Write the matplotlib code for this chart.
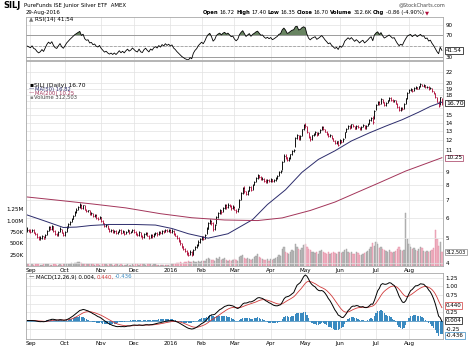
#SILJ daily chart with RSI, price/volume and MACD panels

#Libraries
import numpy as np
import pandas as pd
import matplotlib
matplotlib.use('Agg')
import matplotlib.pyplot as plt
from matplotlib.ticker import FixedLocator, FixedFormatter, NullLocator

#Trading days
holidays = ['2015-09-07', '2015-11-26', '2015-12-25', '2016-01-01', '2016-01-18',
            '2016-02-15', '2016-03-25', '2016-05-30', '2016-07-04']
dates = pd.bdate_range('2015-08-28', '2016-08-29')
dates = dates[~dates.isin(pd.to_datetime(holidays))]

#Daily closes, highs, lows (one list per month)
close_aug15 = [5.40, 5.35]
close_sep = [5.30, 5.40, 5.25, 5.20, 5.05, 4.95, 5.00, 5.10, 4.98, 5.15, 5.35, 5.50, 5.42, 5.55, 5.35, 5.20, 5.15, 5.30, 5.45, 5.25, 5.15]
close_oct = [5.30, 5.50, 5.65, 5.80, 5.95, 6.10, 6.30, 6.45, 6.60, 6.75, 6.55, 6.70, 6.45, 6.35, 6.40, 6.20, 6.25, 6.10, 6.15, 6.00, 5.95, 6.05]
close_nov = [5.85, 5.70, 5.55, 5.60, 5.45, 5.35, 5.40, 5.28, 5.35, 5.22, 5.30, 5.40, 5.25, 5.32, 5.20, 5.30, 5.38, 5.25, 5.30, 5.40]
close_dec = [5.30, 5.20, 5.15, 5.28, 5.10, 5.05, 5.18, 5.25, 5.12, 5.02, 5.15, 5.08, 5.20, 5.25, 5.18, 5.30, 5.22, 5.35, 5.28, 5.40, 5.32, 5.38]
close_jan = [5.30, 5.35, 5.20, 5.12, 5.00, 4.90, 4.78, 4.65, 4.55, 4.45, 4.38, 4.32, 4.40, 4.30, 4.50, 4.62, 4.70, 4.85, 4.95]
close_feb = [5.05, 4.98, 5.15, 5.45, 5.70, 5.85, 5.70, 5.45, 5.60, 6.05, 6.25, 6.40, 6.30, 6.55, 6.70, 6.60, 6.75, 6.65, 6.55, 6.62]
close_mar = [6.45, 6.35, 6.50, 7.05, 7.45, 7.80, 7.60, 7.40, 7.65, 7.90, 7.70, 8.05, 8.25, 8.55, 8.75, 8.60, 8.45, 8.50, 8.35, 8.25, 8.40, 8.30]
close_apr = [8.45, 8.30, 8.40, 8.55, 8.70, 9.00, 9.10, 9.90, 10.45, 10.30, 10.05, 10.20, 10.55, 10.85, 11.00, 12.20, 12.50, 12.15, 12.40, 13.20, 13.70]
close_may = [13.60, 12.90, 12.35, 12.10, 12.50, 12.70, 12.90, 12.55, 12.80, 13.15, 13.50, 13.25, 12.95, 12.70, 12.40, 12.55, 12.20, 11.95, 11.70, 11.85, 11.50]
close_jun = [12.00, 11.80, 12.10, 12.85, 13.20, 13.60, 13.40, 13.80, 13.55, 13.30, 13.65, 13.45, 13.20, 13.50, 13.70, 13.35, 13.60, 13.90, 14.30, 14.60, 14.10, 15.60]
close_jul = [16.40, 16.90, 16.50, 17.30, 16.80, 16.40, 16.70, 17.10, 17.45, 17.20, 16.95, 17.10, 16.60, 16.10, 15.70, 16.00, 15.80, 16.60, 17.40, 18.30]
close_aug = [18.70, 18.95, 18.60, 19.10, 19.30, 19.00, 19.40, 19.75, 19.50, 19.60, 19.20, 19.35, 18.90, 19.10, 18.60, 18.20, 17.60, 16.90, 16.30, 17.56, 16.70]

high_aug15 = [5.50, 5.45]
high_sep = [5.42, 5.45, 5.42, 5.30, 5.22, 5.08, 5.08, 5.15, 5.12, 5.18, 5.40, 5.55, 5.55, 5.60, 5.55, 5.38, 5.25, 5.35, 5.50, 5.45, 5.28]
high_oct = [5.35, 5.55, 5.70, 5.85, 6.00, 6.15, 6.35, 6.55, 6.65, 6.85, 6.78, 6.75, 6.70, 6.50, 6.45, 6.42, 6.30, 6.28, 6.20, 6.18, 6.05, 6.10]
high_nov = [6.05, 5.88, 5.72, 5.65, 5.62, 5.48, 5.45, 5.42, 5.40, 5.38, 5.35, 5.45, 5.42, 5.38, 5.35, 5.35, 5.42, 5.40, 5.35, 5.45]
high_dec = [5.42, 5.32, 5.25, 5.32, 5.30, 5.15, 5.22, 5.30, 5.28, 5.15, 5.20, 5.18, 5.25, 5.30, 5.28, 5.35, 5.32, 5.40, 5.38, 5.45, 5.42, 5.42]
high_jan = [5.45, 5.42, 5.38, 5.25, 5.15, 5.05, 4.92, 4.80, 4.68, 4.58, 4.50, 4.42, 4.48, 4.45, 4.55, 4.68, 4.75, 4.90, 5.00]
high_feb = [5.10, 5.10, 5.20, 5.50, 5.75, 5.95, 5.90, 5.75, 5.68, 6.10, 6.32, 6.48, 6.45, 6.62, 6.80, 6.78, 6.82, 6.78, 6.70, 6.70]
high_mar = [6.65, 6.50, 6.55, 7.10, 7.55, 7.90, 7.95, 7.65, 7.70, 7.98, 7.95, 8.10, 8.35, 8.62, 8.90, 8.80, 8.68, 8.60, 8.55, 8.45, 8.48, 8.45]
high_apr = [8.52, 8.50, 8.48, 8.62, 8.78, 9.08, 9.20, 9.95, 10.60, 10.55, 10.35, 10.30, 10.62, 10.95, 11.10, 12.30, 12.65, 12.55, 12.55, 13.30, 13.85]
high_may = [13.95, 13.55, 12.95, 12.40, 12.55, 12.80, 13.00, 12.95, 12.90, 13.25, 13.60, 13.55, 13.30, 13.00, 12.75, 12.65, 12.55, 12.25, 12.00, 11.95, 11.90]
high_jun = [12.10, 12.05, 12.20, 12.95, 13.35, 13.75, 13.70, 13.90, 13.85, 13.60, 13.75, 13.70, 13.50, 13.60, 13.85, 13.75, 13.70, 14.00, 14.45, 14.75, 14.90, 15.70]
high_jul = [16.55, 17.05, 16.95, 17.45, 17.35, 16.85, 16.80, 17.20, 17.55, 17.55, 17.25, 17.20, 17.10, 16.65, 16.20, 16.10, 16.10, 16.70, 17.50, 18.40]
high_aug = [18.85, 19.15, 18.95, 19.20, 19.45, 19.35, 19.50, 19.90, 19.85, 19.75, 19.65, 19.45, 19.40, 19.20, 19.15, 18.65, 18.25, 17.60, 17.00, 17.65, 17.40]

low_aug15 = [5.30, 5.28]
low_sep = [5.25, 5.28, 5.22, 5.15, 5.02, 4.90, 4.92, 4.98, 4.95, 5.00, 5.15, 5.32, 5.38, 5.40, 5.30, 5.15, 5.08, 5.12, 5.28, 5.22, 5.10]
low_oct = [5.12, 5.28, 5.48, 5.62, 5.78, 5.92, 6.08, 6.28, 6.42, 6.55, 6.50, 6.50, 6.40, 6.30, 6.30, 6.15, 6.15, 6.05, 6.05, 5.95, 5.88, 5.92]
low_nov = [5.80, 5.65, 5.50, 5.50, 5.42, 5.30, 5.30, 5.22, 5.25, 5.18, 5.18, 5.28, 5.20, 5.22, 5.15, 5.18, 5.28, 5.20, 5.22, 5.28]
low_dec = [5.25, 5.15, 5.10, 5.12, 5.05, 4.98, 5.02, 5.15, 5.08, 4.98, 5.00, 5.02, 5.05, 5.15, 5.12, 5.15, 5.18, 5.20, 5.22, 5.28, 5.28, 5.30]
low_jan = [5.25, 5.25, 5.15, 5.08, 4.95, 4.85, 4.72, 4.60, 4.50, 4.40, 4.32, 4.25, 4.30, 4.25, 4.30, 4.48, 4.58, 4.65, 4.80]
low_feb = [4.92, 4.92, 4.98, 5.20, 5.45, 5.65, 5.62, 5.35, 5.40, 5.65, 6.00, 6.20, 6.20, 6.30, 6.50, 6.50, 6.55, 6.58, 6.45, 6.48]
low_mar = [6.40, 6.28, 6.30, 6.55, 7.00, 7.40, 7.50, 7.32, 7.35, 7.62, 7.62, 7.70, 8.00, 8.25, 8.50, 8.52, 8.40, 8.38, 8.28, 8.18, 8.20, 8.22]
low_apr = [8.25, 8.22, 8.25, 8.35, 8.50, 8.70, 8.95, 9.20, 9.85, 10.15, 9.95, 9.98, 10.15, 10.50, 10.75, 11.30, 12.10, 12.05, 12.05, 12.45, 13.10]
low_may = [13.35, 12.80, 12.25, 11.90, 12.05, 12.40, 12.60, 12.45, 12.50, 12.75, 13.10, 13.15, 12.85, 12.60, 12.30, 12.30, 12.10, 11.85, 11.60, 11.60, 11.40]
low_jun = [11.55, 11.70, 11.75, 12.20, 12.85, 13.20, 13.30, 13.40, 13.45, 13.20, 13.25, 13.35, 13.10, 13.15, 13.45, 13.25, 13.30, 13.55, 13.90, 14.25, 13.80, 14.50]
low_jul = [15.75, 16.35, 16.35, 16.55, 16.70, 16.30, 16.30, 16.65, 17.05, 17.05, 16.85, 16.85, 16.50, 16.00, 15.55, 15.60, 15.65, 15.85, 16.55, 17.35]
low_aug = [18.20, 18.55, 18.45, 18.55, 19.00, 18.90, 19.00, 19.35, 19.40, 19.30, 19.10, 19.15, 18.80, 18.85, 18.50, 18.10, 17.50, 16.80, 16.10, 16.40, 16.35]

#Volume in thousands
vol_aug15 = [40, 35]
vol_sep = [30, 45, 25, 35, 40, 55, 30, 25, 35, 40, 50, 45, 30, 25, 35, 40, 30, 25, 35, 30, 40]
vol_oct = [35, 40, 50, 45, 60, 55, 70, 65, 80, 90, 60, 55, 45, 50, 40, 35, 45, 40, 30, 35, 40, 30]
vol_nov = [45, 40, 50, 35, 30, 40, 35, 30, 25, 35, 40, 30, 35, 25, 20, 30, 35, 25, 30, 35]
vol_dec = [30, 35, 40, 30, 45, 40, 35, 30, 40, 45, 35, 30, 40, 35, 30, 25, 20, 30, 25, 20, 25, 30]
vol_jan = [40, 45, 50, 55, 60, 70, 80, 65, 75, 90, 85, 100, 80, 95, 110, 85, 90, 100, 95]
vol_feb = [120, 100, 110, 160, 180, 150, 130, 140, 120, 170, 160, 190, 140, 150, 180, 130, 120, 140, 110, 130]
vol_mar = [150, 130, 120, 200, 220, 250, 180, 160, 170, 150, 140, 160, 190, 230, 260, 200, 170, 150, 140, 130, 150, 120]
vol_apr = [160, 140, 150, 170, 200, 240, 220, 380, 420, 300, 280, 260, 300, 350, 330, 480, 420, 380, 350, 400, 460]
vol_may = [480, 420, 380, 350, 300, 320, 280, 300, 260, 330, 360, 300, 280, 260, 300, 270, 290, 310, 280, 260, 300]
vol_jun = [320, 280, 300, 350, 380, 320, 280, 300, 260, 270, 300, 280, 250, 240, 260, 280, 300, 330, 380, 420, 500, 450]
vol_jul = [520, 480, 400, 420, 380, 350, 330, 300, 360, 320, 280, 300, 340, 380, 420, 360, 330, 350, 1170, 600]
vol_aug = [480, 420, 380, 400, 360, 340, 380, 420, 400, 330, 300, 340, 310, 330, 360, 400, 800, 600, 450, 520, 313]

#Moving averages read at sample days (index of trading day)
ma50_day = [0, 10, 22, 30, 39, 50, 65, 78, 88, 98, 110, 122, 137, 146, 157, 167, 177, 187, 197, 208, 218, 228, 238, 245, 252]
ma50_val = [6.15, 5.85, 5.50, 5.52, 5.60, 5.65, 5.65, 5.62, 5.45, 5.20, 5.00, 5.20, 5.90, 6.75, 7.70, 9.00, 10.10, 10.90, 11.90, 12.80, 13.60, 14.40, 15.40, 16.20, 16.82]
ma200_day = [0, 20, 40, 60, 81, 100, 120, 140, 155, 172, 187, 200, 214, 230, 252]
ma200_val = [7.22, 7.00, 6.78, 6.55, 6.22, 6.00, 5.88, 5.85, 5.99, 6.40, 6.90, 7.50, 8.20, 9.10, 10.25]

#Axis labels (labels hidden behind the value tags are left blank)
month_day = [2, 23, 45, 65, 87, 106, 126, 148, 169, 190, 212, 232]
month_lbl = ['Sep', 'Oct', 'Nov', 'Dec', '2016', 'Feb', 'Mar', 'Apr', 'May', 'Jun', 'Jul', 'Aug']
price_ticks = [4, 5, 6, 7, 8, 9, 10, 11, 12, 13, 14, 15, 16, 17, 18, 19, 20, 22]
price_lbl = ['4', '5', '6', '7', '8', '9', '', '11', '12', '13', '14', '15', '', '', '18', '19', '20', '22']
vol_ticks = [250e3, 500e3, 750e3, 1000e3, 1250e3]
vol_lbl = ['250K', '500K', '750K', '1.00M', '1.25M']
rsi_ticks = [30, 50, 70, 90]
rsi_lbl = ['30', '', '70', '90']
macd_ticks = [-0.25, 0.0, 0.25, 0.50, 0.75, 1.00, 1.25]
macd_lbl = ['-0.25', '', '0.25', '', '0.75', '1.00', '1.25']

close = np.array(close_aug15 + close_sep + close_oct + close_nov + close_dec + close_jan + close_feb + close_mar + close_apr + close_may + close_jun + close_jul + close_aug)
high = np.array(high_aug15 + high_sep + high_oct + high_nov + high_dec + high_jan + high_feb + high_mar + high_apr + high_may + high_jun + high_jul + high_aug)
low = np.array(low_aug15 + low_sep + low_oct + low_nov + low_dec + low_jan + low_feb + low_mar + low_apr + low_may + low_jun + low_jul + low_aug)
vol = np.array(vol_aug15 + vol_sep + vol_oct + vol_nov + vol_dec + vol_jan + vol_feb + vol_mar + vol_apr + vol_may + vol_jun + vol_jul + vol_aug) * 1000.0
n = len(close)
x = np.arange(n)

#Indicators (RSI seeded with an even average gain/loss)
s = pd.Series(close)
d = s.diff()
gain = d.clip(lower=0)
loss = -d.clip(upper=0)
gain.iloc[0] = 0.06
loss.iloc[0] = 0.06
rsi = 100 - 100/(1 + gain.ewm(alpha=1/14, adjust=False).mean()/loss.ewm(alpha=1/14, adjust=False).mean())
ema12 = s.ewm(span=12).mean()
ema26 = s.ewm(span=26).mean()
macd = ema12 - ema26
signal = macd.ewm(span=9).mean()
hist = macd - signal

upday = np.r_[True, close[1:] >= close[:-1]]
RED = '#b0103c'
MA200C = '#a3355a'
SIGC = '#d03a3a'
BLUE = '#3a8ac0'
GRID = '#e2e2e2'
EDGE = '#a8a8a8'
FS = 4.1

fig = plt.figure(figsize=(4.68, 3.49), dpi=100)
L, R = 26.3/468, (442.7-26.3)/468
rend = fig.canvas.get_renderer()

def px(y):
    return 1 - y/349

def style(ax):
    ax.set_xlim(-0.5, n-0.5)
    for sp in ax.spines.values():
        sp.set_color(EDGE)
        sp.set_linewidth(0.6)
    ax.tick_params(length=0, labelsize=FS, pad=2)
    ax.set_xticks(month_day)
    ax.grid(color=GRID, lw=0.5)
    ax.set_axisbelow(True)
    ax.yaxis.tick_right()

#write coloured pieces of text one after the other
def chain(x0, y0, parts, fs=FS):
    xx = x0
    for t, c, w in parts:
        tt = fig.text(xx/468, px(y0), t, color=c, fontsize=fs, fontweight=w, va='center')
        xx = tt.get_window_extent(rend).x1 + 1.2

def tag(ax, frac, t, ec, fs=FS):
    ax.text(1.008, frac, t, transform=ax.transAxes, fontsize=fs, va='center', zorder=10, clip_on=False,
            bbox=dict(boxstyle='square,pad=0.12', fc='white', ec=ec, lw=0.5))

#RSI panel
ax1 = fig.add_axes([L, px(60), R, 43/349])
style(ax1)
ax1.set_xticklabels([])
ax1.set_ylim(24, 104)
ax1.set_yticks(rsi_ticks)
ax1.set_yticklabels(rsi_lbl)
ax1.axhline(70, color='#909090', lw=0.6)
ax1.axhline(30, color='#909090', lw=0.6)
ax1.axhline(50, color='#909090', lw=0.5, ls=(0, (4, 2)))
ax1.plot(x, rsi, color='black', lw=0.6)
ax1.fill_between(x, 70, rsi, where=rsi > 70, color='#4d6e45', alpha=0.85, lw=0, interpolate=True)
tag(ax1, (41.54-24)/80, '41.54', 'black')
chain(29, 19.5, [('\u25b2', '#777777', 'normal'), ('RSI(14) 41.54', 'black', 'normal')])

#Price panel
ax2 = fig.add_axes([L, px(266), R, 205/349])
vax = ax2.twinx()
ax2.set_zorder(vax.get_zorder()+1)
ax2.patch.set_visible(False)
style(ax2)
ax2.set_yscale('log')
ax2.set_ylim(3.9, 24.3)
ax2.yaxis.set_major_locator(FixedLocator(price_ticks))
ax2.yaxis.set_major_formatter(FixedFormatter(price_lbl))
ax2.yaxis.set_minor_locator(NullLocator())
ax2.set_xticklabels(month_lbl)
ax2.tick_params(axis='x', pad=1.5)

vax.set_xlim(-0.5, n-0.5)
vax.set_ylim(0, 4535e3)
vax.bar(x, vol, width=0.8, color=np.where(upday, '#bdbdbd', '#f2b8c6'),
        edgecolor=np.where(upday, '#9a9a9a', '#e38aa2'), lw=0.3)
vax.yaxis.set_ticks_position('left')
vax.set_yticks(vol_ticks)
vax.set_yticklabels(vol_lbl)
vax.tick_params(length=0, labelsize=FS, pad=2)
for sp in vax.spines.values():
    sp.set_visible(False)

cols = np.where(upday, 'black', RED)
ax2.vlines(x, low, high, colors=cols, lw=0.65)
ax2.hlines(close, x, x+0.6, colors=cols, lw=0.6)
ax2.plot(ma50_day, ma50_val, color='#2c2c6c', lw=0.7)
ax2.plot(ma200_day, ma200_val, color=MA200C, lw=0.7)
lg = np.log(24.3/3.9)
tag(ax2, np.log(16.70/3.9)/lg, '16.70', 'black', FS+0.4)
tag(ax2, np.log(10.25/3.9)/lg, '10.25', MA200C)
tag(ax2, 312503/4535e3, '312,503', '#888888', FS-0.6)

#Legend of price panel
chain(29, 85, [('\u25aa', 'black', 'normal'), ('SILJ (Daily) 16.70', 'black', 'normal')], FS+0.2)
chain(29, 89.3, [('\u2014', '#2c2c6c', 'normal'), ('MA(50) 16.82', '#2c2c6c', 'normal')], FS-0.3)
chain(29, 93.3, [('\u2014', MA200C, 'normal'), ('MA(200) 10.25', MA200C, 'normal')], FS-0.3)
chain(29, 97.3, [('\u25aa', '#888888', 'normal'), ('Volume 312,503', '#444444', 'normal')], FS-0.3)

#MACD panel
ax3 = fig.add_axes([L, px(339), R, 66/349])
style(ax3)
ax3.set_ylim(-0.544, 1.397)
ax3.set_yticks(macd_ticks)
ax3.set_yticklabels(macd_lbl)
ax3.set_xticklabels(month_lbl)
ax3.tick_params(axis='x', pad=1.5)
ax3.bar(x, hist, width=0.8, color=BLUE, lw=0)
ax3.axhline(0, color=BLUE, lw=0.5)
ax3.plot(x, signal, color=SIGC, lw=0.6)
ax3.plot(x, macd, color='black', lw=0.7)
tag(ax3, (0.440+0.544)/1.941, '0.440', SIGC)
tag(ax3, (0.004+0.544)/1.941, '0.004', 'black')
tag(ax3, (-0.436+0.544)/1.941, '-0.436', BLUE)
chain(29, 277, [('\u2014', 'black', 'normal'), ('MACD(12,26,9) 0.004,', 'black', 'normal'),
                ('0.440,', SIGC, 'normal'), ('-0.436', BLUE, 'normal')], FS-0.2)

#Header
fig.text(3/468, px(5.5), 'SILJ', fontsize=6, fontweight='bold', va='center')
fig.text(24/468, px(5.5), 'PureFunds ISE Junior Silver ETF  AMEX', fontsize=FS-0.2, va='center')
fig.text(26/468, px(12.5), '29-Aug-2016', fontsize=FS-0.2, va='center')
fig.text(445/468, px(4.5), '@StockCharts.com', fontsize=FS-0.6, va='center', ha='right', color='#444444')
chain(203, 12.5, [('Open', 'black', 'bold'), ('16.72', 'black', 'normal'), ('High', 'black', 'bold'), ('17.40', 'black', 'normal'),
                  ('Low', 'black', 'bold'), ('16.35', 'black', 'normal'), ('Close', 'black', 'bold'), ('16.70', 'black', 'normal'),
                  ('Volume', 'black', 'bold'), ('312.6K', 'black', 'normal'), ('Chg', 'black', 'bold'),
                  ('-0.86 (-4.90%)', 'black', 'normal'), ('\u25bc', RED, 'normal')], FS-0.3)

fig.savefig('out.png', dpi=100)
